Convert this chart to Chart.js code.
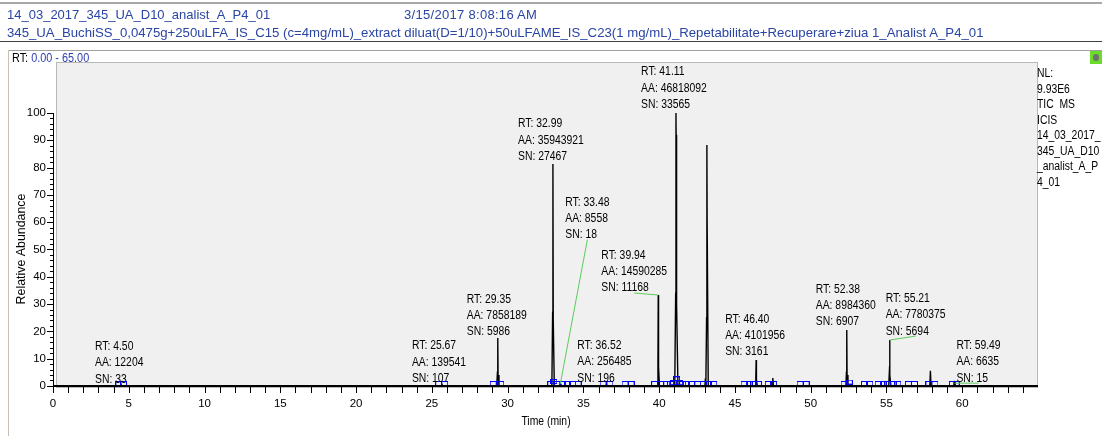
<!DOCTYPE html>
<html><head><meta charset="utf-8">
<script src="https://cdn.jsdelivr.net/npm/chart.js@4.4.1/dist/chart.umd.min.js"></script>
<style>
html,body{margin:0;padding:0;background:#fff;}
#wrap{position:relative;width:1102px;height:436px;overflow:hidden;font-family:"Liberation Sans",Arial,sans-serif;}
#c{position:absolute;left:0;top:0;}
.t{position:absolute;white-space:nowrap;line-height:1;}
.hd{color:#2a45a4;font-size:13px;}
.nar{font-size:12.5px;color:#000;transform:scaleX(0.83);transform-origin:0 0;}
</style></head><body>
<div id="wrap">
<canvas id="c" width="1102" height="436"></canvas>
<div style="position:absolute;left:0;top:2px;width:1102px;height:2px;background:#a8a8a8"></div>
<div class="t hd" style="left:7px;top:8px">14_03_2017_345_UA_D10_analist_A_P4_01</div>
<div class="t hd" style="left:404px;top:8px;letter-spacing:0.3px">3/15/2017 8:08:16 AM</div>
<div class="t hd" style="left:7px;top:26px;font-size:13.2px">345_UA_BuchiSS_0,0475g+250uLFA_IS_C15 (c=4mg/mL)_extract diluat(D=1/10)+50uLFAME_IS_C23(1 mg/mL)_Repetabilitate+Recuperare+ziua 1_Analist A_P4_01</div>
<div style="position:absolute;left:0;top:41px;width:1102px;height:1px;background:#404040"></div>
<div style="position:absolute;left:8px;top:50px;width:1094px;height:1px;background:#a0a0a0"></div>
<div style="position:absolute;left:8px;top:50px;width:1px;height:386px;background:#c8c0b0"></div>
<div class="t nar" style="left:12px;top:52px;transform:scaleX(0.87)">RT: <span style="color:#3040b0">0.00 - 65.00</span></div>
<div style="position:absolute;left:1090px;top:51px;width:12px;height:13px;background:#6add2a"></div>
<div style="position:absolute;left:1093px;top:54px;width:6px;height:7px;background:#707070;border-radius:3px"></div>
<div class="t nar" style="left:1037px;top:66px;line-height:15.5px;">NL:<br>9.93E6<br>TIC&nbsp; MS<br>ICIS<br>14_03_2017_<br>345_UA_D10<br>_analist_A_P<br>4_01</div>
</div>
<script>
// ---- data ----
const traceTime  = [0, 4.45, 4.50, 4.55, 25.62, 25.67, 25.72, 29.28, 29.33, 29.35, 29.37, 29.43,
  32.92, 32.97, 32.99, 33.01, 33.08, 33.44, 33.48, 33.52, 36.48, 36.52, 36.56,
  39.88, 39.92, 39.94, 39.96, 40.02, 41.03, 41.09, 41.11, 41.12, 41.15, 41.24,
  43.02, 43.05, 43.08, 43.13, 43.15, 43.165, 43.24, 46.35, 46.38, 46.40, 46.42, 46.48,
  47.46, 47.50, 47.54, 52.32, 52.36, 52.38, 52.40, 52.46, 55.15, 55.19, 55.21, 55.23, 55.29,
  57.86, 57.90, 57.94, 59.45, 59.49, 59.53, 65];
const traceAbund = [0, 0, 0.3, 0, 0, 0.5, 0, 0, 5, 17.6, 4, 0,
  0, 27, 81.3, 25, 0, 0, 0.8, 0, 0, 0.6, 0,
  0, 8, 33.3, 7, 0, 0, 34, 100, 92, 30, 0,
  0, 2.7, 0, 25, 88.3, 62, 0, 0, 3, 9.5, 2, 0,
  0, 2.9, 0, 0, 5, 20.5, 4, 0, 0, 5, 16.8, 4, 0,
  0, 5.5, 0, 0, 1.0, 0, 0];
const markerTime = [4.35, 4.65, 25.45, 25.85, 29.05, 29.55, 32.85, 33.05, 33.3, 33.6, 33.95, 34.3, 34.65,
  36.3, 36.75, 37.75, 38.15, 39.7, 40.1, 40.5, 40.75, 40.95, 41.15, 41.35, 41.55, 41.8, 42.15,
  42.55, 42.9, 43.25, 43.6, 45.6, 45.95, 46.25, 46.55, 47.2, 47.55, 49.3, 49.7, 52.2, 52.55,
  53.55, 53.9, 54.45, 54.8, 55.1, 55.45, 55.75, 56.45, 56.85, 57.8, 58.2, 59.35, 59.6];
const markerAbund = [0.9, 0.9, 0.9, 0.9, 0.9, 0.9, 0.9, 1.6, 0.9, 0.9, 0.9, 0.9, 0.9,
  0.9, 0.9, 0.9, 0.9, 0.9, 0.9, 0.9, 0.9, 1.2, 2.6, 1.2, 0.9, 0.9, 0.9,
  0.9, 0.9, 0.9, 0.9, 0.9, 0.9, 0.9, 0.9, 0.9, 0.9, 0.9, 0.9, 0.9, 1.4,
  0.9, 0.9, 0.9, 0.9, 0.9, 0.9, 0.9, 0.9, 0.9, 0.9, 0.9, 0.9, 0.9];
const labelRT = [4.50, 25.67, 29.35, 32.99, 33.48, 36.52, 39.94, 41.11, 46.40, 52.38, 55.21, 59.49];
const labelAA = [12204, 139541, 7858189, 35943921, 8558, 256485, 14590285, 46818092, 4101956, 8984360, 7780375, 6635];
const labelSN = [33, 107, 5986, 27467, 18, 196, 11168, 33565, 3161, 6907, 5694, 15];
const xTickLabels = [0, 5, 10, 15, 20, 25, 30, 35, 40, 45, 50, 55, 60];
const yTickLabels = [0, 10, 20, 30, 40, 50, 60, 70, 80, 90, 100];

// ---- style / placement (pixels) ----
const labelOffset = [[-2,-1],[-3,-1],[-1,-1],[-2,-2.5],[27,-144],[-2,-1],[-24,-2],[-2,-3.5],[-1,-3],[-1,-3],[26,-4],[24,0]];
const leader = [false,false,false,false,true,false,true,false,false,false,true,true];
const FONT = '"Liberation Sans",Arial,sans-serif';
const SX = 0.83;

const mk = document.createElement('canvas'); mk.width = 7; mk.height = 5;
const mctx = mk.getContext('2d'); mctx.strokeStyle = '#0000ff'; mctx.lineWidth = 1; mctx.strokeRect(0.5, 0.5, 6, 4);

function peakAt(t){ let m = 0; traceTime.forEach((v,i)=>{ if (Math.abs(v-t) < 0.06 && traceAbund[i] > m) m = traceAbund[i]; }); return m; }
function narrowText(ctx, s, x, y){ ctx.save(); ctx.translate(x, y); ctx.scale(SX, 1); ctx.fillText(s, 0, 0); ctx.restore(); }

const deco = {
  id: 'deco',
  beforeDatasetsDraw(chart){
    const {ctx, chartArea:a} = chart;
    ctx.save();
    ctx.fillStyle = '#f0f0f0';
    ctx.fillRect(a.left+3, a.top, a.right-a.left-3, a.bottom-a.top);
    ctx.strokeStyle = '#b8b8b8'; ctx.lineWidth = 1;
    ctx.strokeRect(a.left+3.5, a.top+0.5, a.right-a.left-4, a.bottom-a.top);
    ctx.restore();
  },
  afterDatasetsDraw(chart){
    const {ctx, chartArea:a, scales:{x, y}} = chart;
    ctx.save();
    ctx.strokeStyle = '#000'; ctx.lineWidth = 1;
    ctx.beginPath();
    ctx.moveTo(a.left+0.5, y.getPixelForValue(100)); ctx.lineTo(a.left+0.5, a.bottom);
    for (let v = 0; v <= 100; v += 2) {
      const py = Math.round(y.getPixelForValue(v)) + 0.5;
      ctx.moveTo(a.left - (v % 10 === 0 ? 6 : 3), py); ctx.lineTo(a.left, py);
    }
    for (let v = 0; v <= 64; v += 1) {
      const px = Math.round(x.getPixelForValue(v)) + 0.5;
      ctx.moveTo(px, a.bottom); ctx.lineTo(px, a.bottom + 6);
    }
    ctx.stroke();
    ctx.lineWidth = 2;
    ctx.beginPath(); ctx.moveTo(a.left, a.bottom-1); ctx.lineTo(a.right, a.bottom-1); ctx.stroke();
    // axis titles
    ctx.fillStyle = '#000';
    ctx.textAlign = 'center'; ctx.textBaseline = 'middle';
    ctx.font = '12.5px ' + FONT;
    narrowText(ctx, 'Time (min)', 546, 422);
    ctx.save(); ctx.translate(22, 249); ctx.rotate(-Math.PI/2);
    ctx.font = '12.4px ' + FONT;
    ctx.fillText('Relative Abundance', 0, 0); ctx.restore();
    // peak labels
    ctx.font = '12.5px ' + FONT;
    ctx.textAlign = 'left'; ctx.textBaseline = 'middle';
    labelRT.forEach((rt, i) => {
      const px = x.getPixelForValue(rt), py = y.getPixelForValue(peakAt(rt));
      const ax = px + labelOffset[i][0], ay = py + labelOffset[i][1];
      const lines = ['RT: ' + rt.toFixed(2), 'AA: ' + labelAA[i], 'SN: ' + labelSN[i]];
      const w = Math.max(...lines.map(s => ctx.measureText(s).width)) * SX;
      const left = ax - w/2;
      lines.forEach((s, k) => narrowText(ctx, s, left, ay - 5 - (2-k)*16.3));
      if (leader[i]) {
        ctx.strokeStyle = '#5ccc5c'; ctx.lineWidth = 1;
        ctx.beginPath(); ctx.moveTo(px, py); ctx.lineTo(ax, ay); ctx.stroke();
      }
    });
    ctx.restore();
  }
};

new Chart(document.getElementById('c'), {
  type: 'scatter',
  data: { datasets: [
    { type: 'line', label: 'TIC', data: traceTime.map((t,i)=>({x:t, y:traceAbund[i]})),
      borderColor: '#000', borderWidth: 1.4, pointRadius: 0, tension: 0, fill: false, order: 1 },
    { type: 'scatter', label: 'peaks', data: markerTime.map((t,i)=>({x:t, y:markerAbund[i]})),
      pointStyle: mk, pointRadius: 4, order: 0 }
  ]},
  options: {
    responsive: false, animation: false, events: [],
    layout: { padding: { top: 62, right: 64, left: 0, bottom: 0 } },
    plugins: { legend: { display: false }, tooltip: { enabled: false } },
    scales: {
      x: { type: 'linear', min: 0, max: 65,
        afterBuildTicks: s => { s.ticks = xTickLabels.map(v => ({value: v})); },
        afterFit: s => { s.height = 49; },
        grid: { display: false, drawTicks: false }, border: { display: false },
        ticks: { color: '#000', padding: 10, maxRotation: 0, autoSkip: false, font: { family: FONT, size: 11.5 } } },
      y: { type: 'linear', min: -0.4, max: 118.7,
        afterBuildTicks: s => { s.ticks = yTickLabels.map(v => ({value: v})); },
        afterFit: s => { s.width = 53; },
        grid: { display: false, drawTicks: false }, border: { display: false },
        ticks: { color: '#000', padding: 7, autoSkip: false, font: { family: FONT, size: 11.5 } } }
    }
  },
  plugins: [deco]
});
</script>
</body></html>
